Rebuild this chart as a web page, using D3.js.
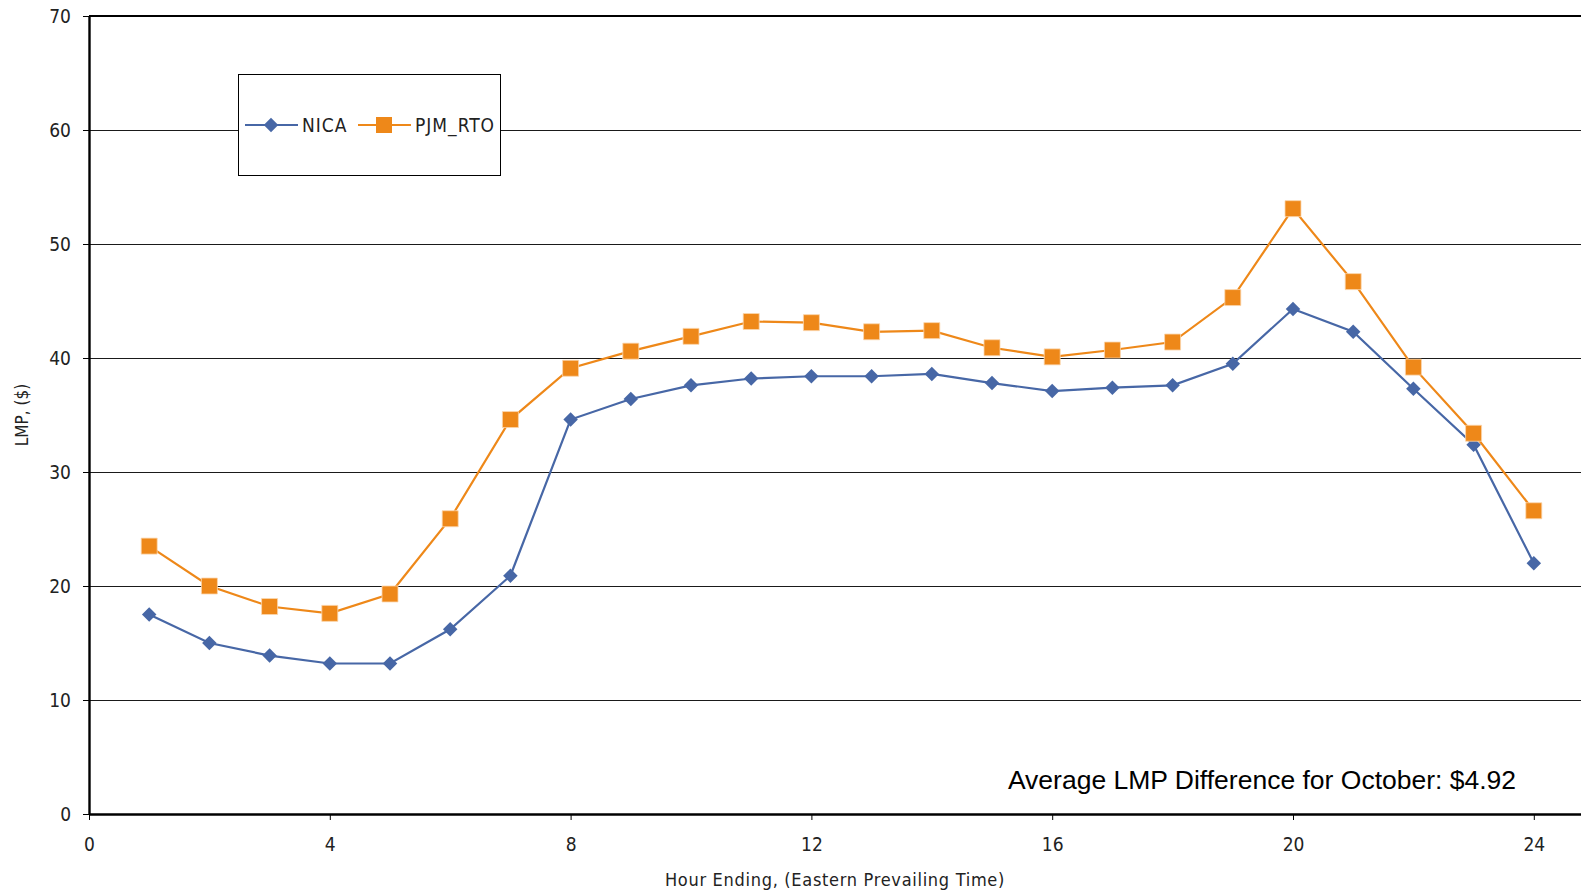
<!DOCTYPE html>
<html>
<head>
<meta charset="utf-8">
<script src="https://cdn.jsdelivr.net/npm/d3@7"></script>
<style>
    body { margin: 0; background: #ffffff; overflow: hidden; }
</style>
</head>
<body>
<div id="chart"></div>
<script>
// hourly LMP values
var hours = [1, 2, 3, 4, 5, 6, 7, 8, 9, 10, 11, 12, 13, 14, 15, 16, 17, 18, 19, 20, 21, 22, 23, 24];
var nica = [17.5, 15.0, 13.9, 13.2, 13.2, 16.2, 20.9, 34.6, 36.4, 37.6, 38.2, 38.4, 38.4, 38.6, 37.8, 37.1, 37.4, 37.6, 39.5, 44.3, 42.3, 37.3, 32.4, 22.0];
var pjmRto = [23.5, 20.0, 18.2, 17.6, 19.3, 25.9, 34.6, 39.1, 40.6, 41.9, 43.2, 43.1, 42.3, 42.4, 40.9, 40.1, 40.7, 41.4, 45.3, 53.1, 46.7, 39.2, 33.4, 26.6];
var seriesNames = ["NICA", "PJM_RTO"];
var xTicks = [0, 4, 8, 12, 16, 20, 24];
var yTicks = [0, 10, 20, 30, 40, 50, 60, 70];
var note = "Average LMP Difference for October: $4.92";

var margin = { top: 16, left: 89 },
    plotW = 60.2 * 25,
    height = 798;

var narrow = "'Liberation Sans Narrow', 'DejaVu Sans Condensed', 'Arial Narrow', 'Liberation Sans', sans-serif";
var blue = "#4767a6", orange = "#ee8819";

var x = d3.scaleLinear().domain([0, 25]).range([0, plotW]);
var y = d3.scaleLinear().domain([0, 70]).range([height, 0]);

var svg = d3.select("#chart").append("svg")
    .attr("width", 1581)
    .attr("height", 894)
    .append("g")
    .attr("transform", "translate(" + margin.left + "," + margin.top + ")");

// gridlines
svg.append("g")
    .selectAll("line")
    .data(yTicks.filter(function (d) { return d > 0 && d < 70; }))
    .enter().append("line")
    .attr("x1", 0)
    .attr("x2", plotW)
    .attr("y1", function (d) { return Math.round(y(d)) + 0.5; })
    .attr("y2", function (d) { return Math.round(y(d)) + 0.5; })
    .attr("stroke", "#1a1a1a")
    .attr("stroke-width", 1);

// top border
svg.append("line")
    .attr("x1", 0).attr("x2", plotW)
    .attr("y1", y(70)).attr("y2", y(70))
    .attr("stroke", "#000").attr("stroke-width", 2.2);

// axes
var yAxis = svg.append("g")
    .call(d3.axisLeft(y).tickValues(yTicks).tickSize(6).tickPadding(12).tickSizeOuter(0));
var xAxis = svg.append("g")
    .attr("transform", "translate(0," + height + ")")
    .call(d3.axisBottom(x).tickValues(xTicks).tickSize(6).tickPadding(18).tickSizeOuter(0));

[yAxis, xAxis].forEach(function (ax) {
    ax.select(".domain").attr("stroke", "#000").attr("stroke-width", 2.4);
    ax.selectAll(".tick line").attr("stroke", "#000").attr("stroke-width", 1);
    ax.selectAll(".tick text")
        .attr("fill", "#222")
        .style("font-family", narrow)
        .style("font-size", "19px");
});

// axis titles
svg.append("text")
    .attr("x", 835 - margin.left)
    .attr("y", 886 - margin.top)
    .style("text-anchor", "middle")
    .style("font-family", narrow)
    .style("font-size", "18px")
    .style("letter-spacing", "0.7px")
    .attr("fill", "#222")
    .text("Hour Ending, (Eastern Prevailing Time)");

svg.append("text")
    .attr("transform", "rotate(-90)")
    .attr("x", -(415 - margin.top))
    .attr("y", 28 - margin.left)
    .style("text-anchor", "middle")
    .style("font-family", narrow)
    .style("font-size", "17px")
    .attr("fill", "#222")
    .text("LMP, ($)");

// lines
var valueline = d3.line()
    .x(function (d, i) { return x(hours[i]); })
    .y(function (d) { return y(d); });

svg.append("path")
    .datum(pjmRto)
    .attr("fill", "none")
    .attr("stroke", orange)
    .attr("stroke-width", 2.2)
    .attr("d", valueline);

svg.append("path")
    .datum(nica)
    .attr("fill", "none")
    .attr("stroke", blue)
    .attr("stroke-width", 2.2)
    .attr("d", valueline);

var diamond = d3.symbol().type(d3.symbolSquare).size(105);
var square = d3.symbol().type(d3.symbolSquare).size(256);

svg.selectAll(".pt-nica")
    .data(nica)
    .enter().append("path")
    .attr("class", "pt-nica")
    .attr("transform", function (d, i) { return "translate(" + x(hours[i]) + "," + y(d) + ") rotate(45)"; })
    .attr("d", diamond)
    .attr("fill", blue);

svg.selectAll(".pt-pjm")
    .data(pjmRto)
    .enter().append("path")
    .attr("class", "pt-pjm")
    .attr("transform", function (d, i) { return "translate(" + x(hours[i]) + "," + y(d) + ")"; })
    .attr("d", square)
    .attr("fill", orange)
    .attr("stroke", "#fbd7ae")
    .attr("stroke-width", 0.8);

// legend
var legend = svg.append("g").attr("transform", "translate(" + (238 - margin.left) + "," + (74 - margin.top) + ")");
legend.append("rect")
    .attr("x", 0.5).attr("y", 0.5)
    .attr("width", 262).attr("height", 101)
    .attr("fill", "#fff")
    .attr("stroke", "#000")
    .attr("stroke-width", 1);

var items = legend.selectAll(".item")
    .data(seriesNames)
    .enter().append("g")
    .attr("class", "item")
    .attr("transform", function (d, i) { return "translate(" + (7 + i * 113) + ",51)"; });

items.append("line")
    .attr("x1", 0).attr("x2", 53)
    .attr("stroke", function (d, i) { return i === 0 ? blue : orange; })
    .attr("stroke-width", 2.2);

items.append("path")
    .attr("transform", function (d, i) { return i === 0 ? "translate(26,0) rotate(45)" : "translate(26,0)"; })
    .attr("d", function (d, i) { return i === 0 ? diamond() : square(); })
    .attr("fill", function (d, i) { return i === 0 ? blue : orange; });

items.append("text")
    .attr("x", 57)
    .attr("y", 7)
    .style("font-family", narrow)
    .style("font-size", "19px")
    .style("letter-spacing", "1px")
    .attr("fill", "#222")
    .text(function (d) { return d; });

// annotation
svg.append("text")
    .attr("x", 1262 - margin.left)
    .attr("y", 789 - margin.top)
    .style("text-anchor", "middle")
    .style("font-family", "'Liberation Sans', Arial, sans-serif")
    .style("font-size", "26.5px")
    .attr("fill", "#000")
    .text(note);
</script>
</body>
</html>
